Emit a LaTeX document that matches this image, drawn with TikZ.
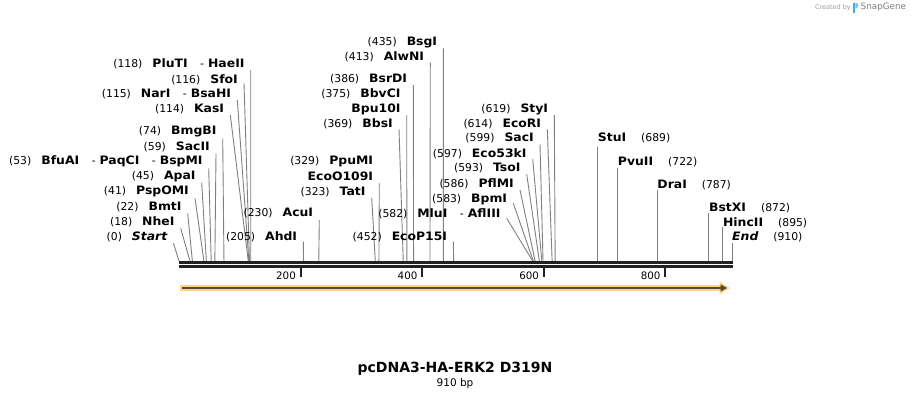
\documentclass[tikz,border=0pt]{standalone}
\usepackage{fontspec}
\setmainfont{DejaVu Sans}
\newfontfamily\widefam[FakeStretch=1.07]{DejaVu Sans}
\usetikzlibrary{calc}
\definecolor{sitegray}{RGB}{128,128,128}
\definecolor{axisdark}{RGB}{34,34,34}
\definecolor{featorange}{RGB}{253,212,135}
\definecolor{featdark}{RGB}{88,72,50}
\definecolor{snapblue}{RGB}{64,170,235}
\newcommand\numfont{\fontsize{10.8}{12}\selectfont}
\newcommand\nm[1]{{\widefam\fontsize{11.6}{13}\selectfont\bfseries #1}}
\newcommand\g{\hspace{10pt}}
\newcommand\dsh{\hspace{12.5pt}-\hspace{4pt}}
% left-side label: id, text y, line-start x, line-start y, bp, text
\newcommand\EnzL[6]{%
  \node[lab,anchor=east] (#1) at ({#3-6},#2) {#6};
  \coordinate (#1-site) at ({179+#5*0.6076923},261);
  \draw[site] ($(#1.east)+(6,{#4-#2})$) -- (#1-site);
}
% right-side label: id, text y, line-start y, bp, text
\newcommand\EnzR[5]{%
  \coordinate (#1-site) at ({179+#4*0.6076923},261);
  \node[lab,anchor=west] (#1) at ({179+#4*0.6076923},#2) {#5};
  \draw[site] ($(#1.west)+(0,{#3-#2})$) -- (#1-site);
}
\begin{document}
\begin{tikzpicture}[x=1pt,y=-1pt,
  lab/.style={inner sep=0pt,font=\numfont,text=black},
  site/.style={draw=sitegray,line width=0.9pt},
  tickline/.style={draw=axisdark,line width=2pt},
  ticklab/.style={inner sep=0pt,font=\fontsize{10.3}{12}\selectfont,anchor=east}]
\fill[white] (0,0) rectangle (912,400);
\useasboundingbox (0,0) rectangle (912,400);

% ---- left cluster
\EnzL{haeii}{64}{250.7}{70}{118}{(118)\g\nm{PluTI}\dsh\nm{HaeII}}
\EnzL{sfoi}{79.3}{244}{83.3}{116}{(116)\g\nm{SfoI}}
\EnzL{bsahi}{93.8}{237.3}{100}{115}{(115)\g\nm{NarI}\dsh\nm{BsaHI}}
\EnzL{kasi}{109}{230.3}{115}{114}{(114)\g\nm{KasI}}
\EnzL{bmgbi}{131.7}{222.7}{138.3}{74}{(74)\g\nm{BmgBI}}
\EnzL{sacii}{146.7}{216}{153.3}{59}{(59)\g\nm{SacII}}
\EnzL{bspmi}{161.7}{208.7}{168.3}{53}{(53)\g\nm{BfuAI}\dsh\nm{PaqCI}\dsh\nm{BspMI}}
\EnzL{apai}{176.7}{201.7}{182.7}{45}{(45)\g\nm{ApaI}}
\EnzL{pspomi}{191.7}{195}{198.3}{41}{(41)\g\nm{PspOMI}}
\EnzL{bmti}{206.5}{187.7}{213.3}{22}{(22)\g\nm{BmtI}}
\EnzL{nhei}{221.5}{180.7}{228.3}{18}{(18)\g\nm{NheI}}
\EnzL{start}{236.7}{173.5}{243.3}{0}{(0)\g\nm{\itshape Start}}

% ---- middle
\EnzL{acui}{213.3}{319.3}{220}{230}{(230)\g\nm{AcuI}}
\EnzL{ahdi}{236.7}{303.3}{241.7}{205}{(205)\g\nm{AhdI}}
\node[lab,anchor=east] (ppumi) at (373.3,161.7) {(329)\g\nm{PpuMI}};
\EnzL{ecoo109i}{176.7}{379.3}{183.3}{329}{\nm{EcoO109I}}
\EnzL{tati}{192}{371.7}{197.7}{323}{(323)\g\nm{TatI}}
\EnzL{bbsi}{124}{399}{129}{369}{(369)\g\nm{BbsI}}
\node[lab,anchor=east] (bbvci) at (400.7,93.3) {(375)\g\nm{BbvCI}};
\EnzL{bpu10i}{109}{406.7}{115}{375}{\nm{Bpu10I}}
\EnzL{bsrdi}{79.3}{413.3}{85}{386}{(386)\g\nm{BsrDI}}
\EnzL{alwni}{56.7}{430.3}{62.7}{413}{(413)\g\nm{AlwNI}}
\EnzL{bsgi}{42.7}{443.3}{48.3}{435}{(435)\g\nm{BsgI}}
\EnzL{ecop15i}{236.7}{453.3}{241.7}{452}{(452)\g\nm{EcoP15I}}

% ---- right-middle cluster
\EnzL{afliii}{213.3}{506.7}{218.3}{582}{(582)\g\nm{MluI}\dsh\nm{AflIII}}
\EnzL{bpmi}{199}{513.3}{203.3}{583}{(583)\g\nm{BpmI}}
\EnzL{pflmi}{183.7}{520}{190}{586}{(586)\g\nm{PflMI}}
\EnzL{tsoi}{168.3}{526.7}{174.3}{593}{(593)\g\nm{TsoI}}
\EnzL{ecofiftythree}{154}{532.7}{159}{597}{(597)\g\nm{Eco53kI}}
\EnzL{saci}{138.3}{540}{144.3}{599}{(599)\g\nm{SacI}}
\EnzL{ecori}{124.3}{547.3}{129.3}{614}{(614)\g\nm{EcoRI}}
\EnzL{styi}{109}{554.3}{115}{619}{(619)\g\nm{StyI}}

% ---- right labels
\EnzR{stui}{138.3}{146.7}{689}{\nm{StuI}\hspace{15pt}(689)}
\EnzR{pvuii}{161.7}{168.3}{722}{\nm{PvuII}\hspace{15pt}(722)}
\EnzR{drai}{185}{190}{787}{\nm{DraI}\hspace{15pt}(787)}
\EnzR{bstxi}{208.3}{213.3}{872}{\nm{BstXI}\hspace{15pt}(872)}
\EnzR{hincii}{222.7}{227.3}{895}{\nm{HincII}\hspace{15pt}(895)}
\EnzR{endsite}{236.7}{242.7}{910}{\nm{\itshape End}\hspace{15pt}(910)}

% ---- sequence axis (double strand)
\draw[axisdark,line width=3pt] (179,262.3) -- (732.5,262.3);
\draw[axisdark,line width=2.7pt] (179,266.4) -- (732.5,266.4);

% ---- ticks
\foreach \bp in {200,400,600,800}{
  \draw[tickline] ({179+\bp*0.6076923},267) -- ({179+\bp*0.6076923},277);
  \node[ticklab] (t\bp) at ({179+\bp*0.6076923-4.5},275.5) {\bp};
}

% ---- feature arrow
\fill[featorange] (180,285) rectangle (721,291);
\fill[featorange] (719.5,281.5) -- (729.5,288) -- (719.5,294.5) -- cycle;
\draw[featdark,line width=2pt] (182,288) -- (721,288);
\fill[featdark] (720.5,284.3) -- (727,288) -- (720.5,291.7) -- cycle;

% ---- title
\node[inner sep=0pt,font=\fontsize{14}{16}\selectfont\bfseries] (title) at (455,369) {pcDNA3-HA-ERK2 D319N};
\node[inner sep=0pt,font=\fontsize{10.5}{12}\selectfont] (length) at (455,383.5) {910 bp};

% ---- credit
\node[inner sep=0pt,anchor=east,text=black!38,font=\fontsize{6.5}{8}\selectfont] (created) at (851,7.5) {Created by};
\fill[snapblue] (853.3,2.5) rectangle (855.3,13);
\fill[snapblue!70] (855.3,2.5) .. controls (859.5,3) and (859.5,8) .. (855.3,8.5) -- cycle;
\node[inner sep=0pt,anchor=west,text=black!50,font=\fontsize{8.8}{10}\selectfont] (snapgene) at (860.5,7.5) {SnapGene};
\end{tikzpicture}
\end{document}
